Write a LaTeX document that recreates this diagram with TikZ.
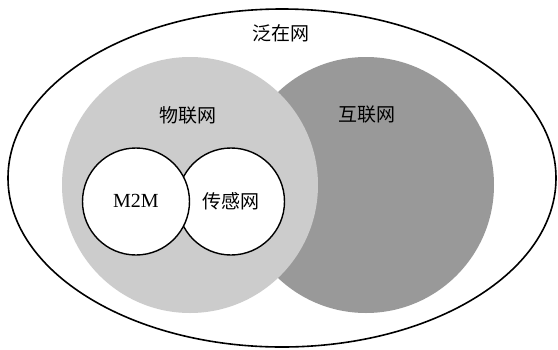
\documentclass[tikz,border=0pt]{standalone}
\usepackage{fontspec}
\setmainfont{Liberation Serif}
\newfontfamily\cjk{Noto Sans CJK SC}
\definecolor{lightg}{RGB}{204,204,204}
\definecolor{darkg}{RGB}{153,153,153}
\begin{document}
\begin{tikzpicture}[x=1pt,y=-1pt,
  lbl/.style={font=\cjk\fontsize{19}{22}\selectfont, inner sep=0pt},
  inner/.style={circle, draw=black, line width=1.4pt, fill=white, minimum size=107pt, inner sep=0pt}]
\useasboundingbox (0,0) rectangle (558,349);
\draw[line width=1.6pt, fill=white] (282,178) ellipse [x radius=274, y radius=169];
\fill[darkg] (366,185) circle [radius=128];
\fill[lightg] (190,185) circle [radius=128];
\node[inner] (cgw) at (231,201.5) {};
\node[inner] (m2m) at (136,201.5) {};
\node[font=\fontsize{20}{24}\selectfont, inner sep=0pt] (m2mt) at (136,201) {M2M};
\node[lbl] (cgwt) at (231,201) {传感网};
\node[lbl] (fzw) at (281,33) {泛在网};
\node[lbl] (wlw) at (188,115) {物联网};
\node[lbl] (hlw) at (367,115) {互联网};
\end{tikzpicture}
\end{document}
